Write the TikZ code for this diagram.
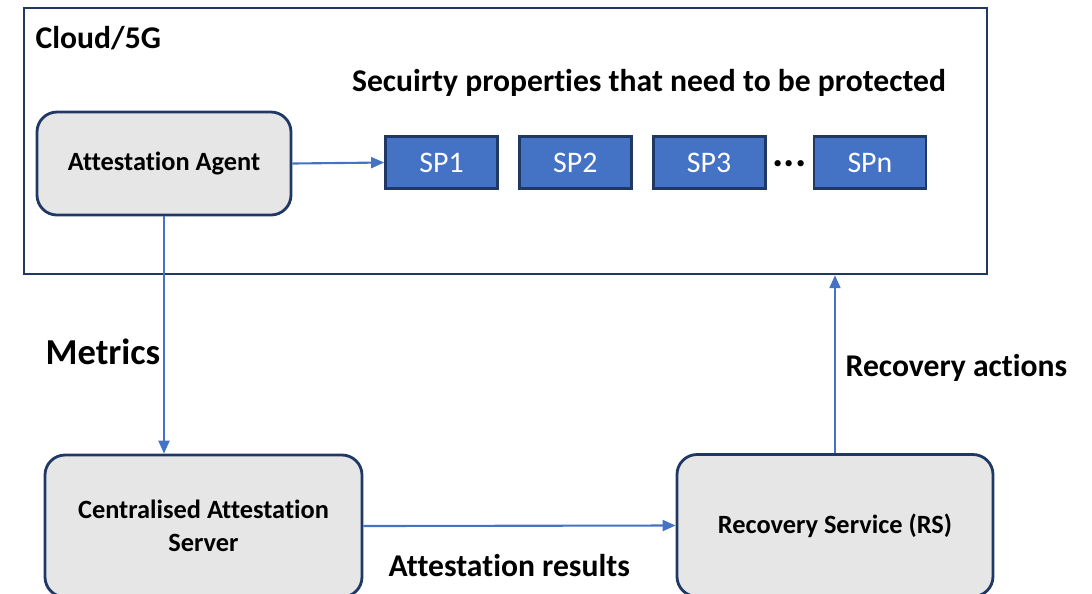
\documentclass[tikz,border=0pt]{standalone}
\usepackage{fontspec}
\setmainfont{Carlito}[Ligatures=NoCommon]
\usetikzlibrary{positioning, arrows.meta, calc}

\definecolor{navy}{HTML}{203864}
\definecolor{spblue}{HTML}{4472C4}
\definecolor{boxgray}{HTML}{E7E6E6}

\begin{document}
\begin{tikzpicture}[
    x=0.1mm, y=-0.1mm,      % 1 unit = 1 px of the layout
    >={Triangle[length=1.3mm, width=1.1mm]},
    flow/.style={->, draw=spblue, line width=0.6pt},
    agentbox/.style={draw=navy, fill=boxgray, line width=0.8pt, rounded corners=2mm,
        align=center, font=\fontsize{7.5}{9.2}\selectfont\bfseries},
    spbox/.style={draw=navy, fill=spblue, line width=0.8pt, text=white,
        minimum width=11.2mm, minimum height=5.2mm, font=\fontsize{8.5}{10}\selectfont},
    lbl/.style={inner sep=0pt, font=\fontsize{9}{11}\selectfont\bfseries}
]
    \useasboundingbox (0,0) rectangle (1092,593);

    % --- 1. Cloud/5G frame ---
    \node [draw=navy, line width=0.7pt, minimum width=96.3mm, minimum height=26.6mm,
        inner sep=0pt] (cloud) at (505.5,141) {};
    \node [lbl, anchor=west] (cloudlbl) at (35,38) {Cloud/5G};
    \node [lbl] (sptitle) at (649,83) {Secuirty properties that need to be protected};

    % --- 2. Agent and security properties ---
    \node [agentbox, minimum width=25.4mm, minimum height=10.3mm] (agent) at (164,163.5) {Attestation Agent};
    \node [spbox] (sp1) at (441.5,162.5) {SP1};
    \node [spbox, right=1.9mm of sp1] (sp2) {SP2};
    \node [spbox, right=1.9mm of sp2] (sp3) {SP3};
    \node [spbox, right=4.6mm of sp3] (spn) {SPn};
    \node [inner sep=0pt, font=\fontsize{12}{14}\selectfont\bfseries] (dots) at ($(sp3.east)!0.5!(spn.west)+(0,1)$) {...};

    % --- 3. Server and recovery service ---
    \node [agentbox, minimum width=31.7mm, minimum height=14.2mm] (cas) at (203.5,526) {Centralised Attestation\\Server};
    \node [agentbox, minimum width=31.6mm, minimum height=14.2mm] (rs) at (835,525.5) {Recovery Service (RS)};

    % --- 4. Connectors ---
    \draw [flow] (agent.east) -- (sp1.west);
    \draw [flow] (agent.south) -- (agent.south |- cas.north);
    \draw [flow] (cas.east) -- (rs.west);
    \draw [flow] (rs.north) -- (rs.north |- cloud.south);

    % --- 5. Connector labels ---
    \node [lbl, anchor=west, font=\fontsize{10.4}{12}\selectfont\bfseries] (metrics) at (45,352) {Metrics};
    \node [lbl, anchor=west] (actions) at (845,368) {Recovery actions};
    \node [lbl, anchor=west] (results) at (388,566) {Attestation results};

\end{tikzpicture}
\end{document}
